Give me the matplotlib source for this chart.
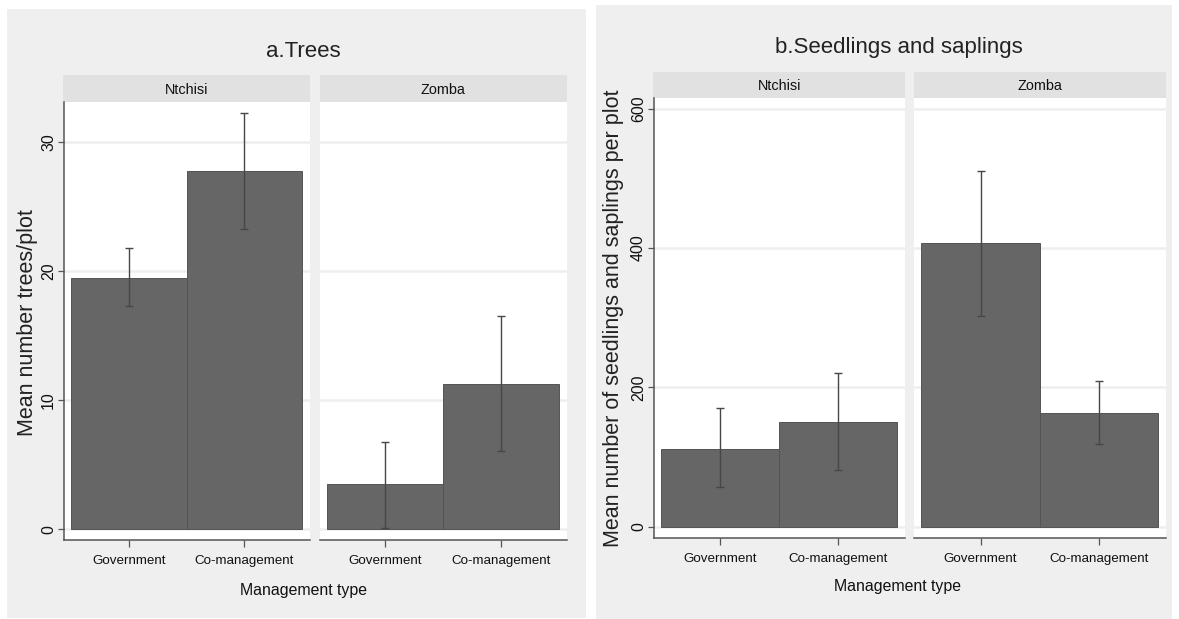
import matplotlib
matplotlib.use("Agg")
import matplotlib.pyplot as plt
import numpy as np
from matplotlib.patches import Rectangle

# figure size in pixels (dpi 100)
W, H = 1179, 619

regions = ["Ntchisi", "Zomba"]
mgmt = ["Government", "Co-management"]

# a. trees per plot: mean and 95% CI
trees_ntchisi = [19.5, 27.8]
trees_ntchisi_lo = [17.3, 23.3]
trees_ntchisi_hi = [21.8, 32.3]
trees_zomba = [3.5, 11.3]
trees_zomba_lo = [0.1, 6.1]
trees_zomba_hi = [6.8, 16.5]

# b. seedlings and saplings per plot
seed_ntchisi = [112, 151]
seed_ntchisi_lo = [57, 81]
seed_ntchisi_hi = [170, 221]
seed_zomba = [407, 163]
seed_zomba_lo = [303, 119]
seed_zomba_hi = [511, 209]

trees_ticks = [0, 10, 20, 30]
seed_ticks = [0, 200, 400, 600]

FONT = ["Liberation Sans", "DejaVu Sans"]

BG = "#efefef"
STRIP = "#e1e1e1"
BAR = "#666666"
AXC = "#555555"


def fx(x):
    return x / W


def fy(y):
    return 1 - y / H


def px_box(x0, y0, x1, y1):
    return [fx(x0), fy(y1), (x1 - x0) / W, (y1 - y0) / H]


fig = plt.figure(figsize=(W / 100, H / 100), dpi=100, facecolor="white")


def panel_bg(x0, y0, x1, y1):
    fig.patches.append(Rectangle((fx(x0), fy(y1)), (x1 - x0) / W, (y1 - y0) / H,
                                 transform=fig.transFigure, facecolor=BG,
                                 edgecolor="none", zorder=-10))


def strip(x0, y0, x1, y1, label):
    fig.patches.append(Rectangle((fx(x0), fy(y1)), (x1 - x0) / W, (y1 - y0) / H,
                                 transform=fig.transFigure, facecolor=STRIP,
                                 edgecolor="none", zorder=-5))
    fig.text(fx((x0 + x1) / 2), fy(y1 - 7.5), label, ha="center", va="baseline",
             fontsize=10.4, family=FONT, color="#111111")


def facet(box, means, lo, hi, ticks, ylim, show_y):
    ax = fig.add_axes(px_box(*box))
    ax.set_facecolor("white")
    x = np.arange(len(mgmt))
    means = np.array(means, dtype=float)
    err = [means - np.array(lo), np.array(hi) - means]
    ax.bar(x, means, width=1.0, color=BAR, edgecolor="#545454", linewidth=0.7, zorder=2)
    ax.errorbar(x, means, yerr=err, fmt="none", ecolor="#474747", elinewidth=1.0,
                capsize=3, capthick=1.0, zorder=3)
    ax.set_xlim(-0.56, 1.57)
    ax.set_ylim(*ylim)
    ax.set_yticks(ticks)
    ax.yaxis.grid(True, color="#eeeeee", linewidth=1.8)
    ax.set_axisbelow(True)
    ax.set_xticks(x)
    ax.set_xticklabels(mgmt, family=FONT, fontsize=9.6, color="#111111")
    ax.tick_params(axis="x", length=5, width=0.9, color=AXC, pad=6)
    for s in ["top", "right"]:
        ax.spines[s].set_visible(False)
    ax.spines["bottom"].set_color(AXC)
    ax.spines["bottom"].set_linewidth(1.1)
    if show_y:
        ax.spines["left"].set_color(AXC)
        ax.spines["left"].set_linewidth(1.1)
        ax.tick_params(axis="y", length=4, width=0.9, color=AXC, pad=2,
                       labelrotation=90, labelsize=11.5, labelcolor="#111111")
        for t in ax.get_yticklabels():
            t.set_va("center")
            t.set_family(FONT)
    else:
        ax.spines["left"].set_visible(False)
        ax.tick_params(axis="y", left=False, labelleft=False)
    return ax


# left figure: trees
panel_bg(7, 9, 586, 618)
strip(63.3, 75, 310, 101.7, regions[0])
strip(320, 75, 566.7, 101.7, regions[1])
tree_ylim = (-0.83, 33.15)
facet((64.3, 101.7, 310, 540), trees_ntchisi, trees_ntchisi_lo, trees_ntchisi_hi,
      trees_ticks, tree_ylim, True)
facet((320, 101.7, 566.7, 540), trees_zomba, trees_zomba_lo, trees_zomba_hi,
      trees_ticks, tree_ylim, False)
fig.text(fx(303), fy(57.3), "a.Trees", ha="center", va="baseline", fontsize=16,
         family=FONT, color="#222222")
fig.text(fx(303), fy(594.5), "Management type", ha="center", va="baseline",
         fontsize=11.4, family=FONT, color="#111111")
fig.text(fx(33), fy(323), "Mean number trees/plot", rotation=90, ha="center",
         va="baseline", rotation_mode="anchor", fontsize=15.5, family=FONT,
         color="#222222")

# right figure: seedlings and saplings
panel_bg(596, 5, 1172, 619)
strip(653.3, 71.7, 905, 97.7, regions[0])
strip(914.4, 71.7, 1166, 97.7, regions[1])
seed_ylim = (-16.2, 615.8)
facet((654.3, 97.7, 905, 538), seed_ntchisi, seed_ntchisi_lo, seed_ntchisi_hi,
      seed_ticks, seed_ylim, True)
facet((914.4, 97.7, 1166, 538), seed_zomba, seed_zomba_lo, seed_zomba_hi,
      seed_ticks, seed_ylim, False)
fig.text(fx(899), fy(53.3), "b.Seedlings and saplings", ha="center", va="baseline",
         fontsize=16, family=FONT, color="#222222")
fig.text(fx(898), fy(591), "Management type", ha="center", va="baseline",
         fontsize=11.4, family=FONT, color="#111111")
fig.text(fx(619), fy(318), "Mean number of seedlings and saplings per plot",
         rotation=90, ha="center", va="baseline", rotation_mode="anchor",
         fontsize=15.5, family=FONT, color="#222222")

fig.savefig("out.png", dpi=100, facecolor="white")
